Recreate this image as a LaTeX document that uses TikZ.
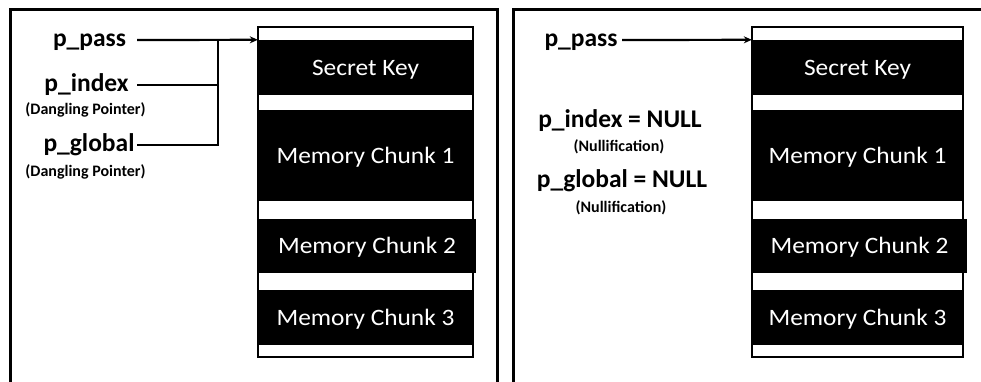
\documentclass[tikz,border=0pt]{standalone}
\usepackage{fontspec}
\setmainfont{Carlito}
\newfontfamily\chunkfont{Carlito}[FakeStretch=1.08]
\usetikzlibrary{arrows.meta}
\begin{document}
\begin{tikzpicture}[x=1pt,y=-1pt,
  frame/.style={line width=3pt},
  mem/.style={draw=black, line width=1.5pt, fill=white, inner sep=0pt},
  chunk/.style={fill=black, draw=none, text=white, inner sep=0pt,
    font=\chunkfont\fontsize{23.5}{28}\selectfont, text height=15.1pt, text depth=0pt},
  ptr/.style={font=\bfseries\fontsize{25.5}{30}\selectfont, inner sep=0pt,
    text height=12pt, text depth=0pt},
  note/.style={font=\bfseries\fontsize{16}{19}\selectfont, inner sep=0pt,
    text height=10.5pt, text depth=0pt},
  wire/.style={line width=2.2pt},
  arr/.style={wire, -{Stealth[length=8pt,width=7pt]}}
]
\useasboundingbox (0,0) rectangle (981,381);

% panel frames (open at the bottom)
\draw[frame] (10,390) -- (10,9.5) -- (497,9.5) -- (497,390);
\draw[frame] (513,390) -- (513,9.5) -- (990,9.5);

% ---------- left panel: memory layout ----------
\node[mem, minimum width=215pt, minimum height=330pt] (LBlock) at (365.5,192) {};
\node[chunk, minimum width=215pt, minimum height=55pt] (LKey) at (365.5,67.5) {Secret Key};
\node[chunk, minimum width=215pt, minimum height=91pt] (LC1) at (365.5,155.5) {Memory Chunk 1};
\node[chunk, minimum width=218pt, minimum height=54pt] (LC2) at (367,246) {Memory Chunk 2};
\node[chunk, minimum width=215pt, minimum height=55pt] (LC3) at (365.5,317.5) {Memory Chunk 3};

% left panel: pointers
\node[ptr] (LPass) at (89.5,40) {p\_pass};
\node[ptr] (LIndex) at (86.5,85) {p\_index};
\node[note] (LDang1) at (85.5,109) {(Dangling Pointer)};
\node[ptr] (LGlobal) at (89,145) {p\_global};
\node[note] (LDang2) at (85.5,171) {(Dangling Pointer)};

\coordinate (LTail) at (137,0);
\coordinate (LJoin) at (218,40);
\draw[arr] (LPass.east -| LTail) -- (LKey.north west);
\draw[wire] (LIndex.east -| LTail) -- (LIndex.east -| LJoin);
\draw[wire] (LGlobal.east -| LTail) -| (LJoin);

% ---------- right panel: memory layout ----------
\node[mem, minimum width=211pt, minimum height=330pt] (RBlock) at (857.5,192) {};
\node[chunk, minimum width=211pt, minimum height=55pt] (RKey) at (857.5,67.5) {Secret Key};
\node[chunk, minimum width=211pt, minimum height=91pt] (RC1) at (857.5,155.5) {Memory Chunk 1};
\node[chunk, minimum width=215pt, minimum height=54pt] (RC2) at (859.5,246) {Memory Chunk 2};
\node[chunk, minimum width=211pt, minimum height=55pt] (RC3) at (857.5,317.5) {Memory Chunk 3};

% right panel: pointers after nullification
\node[ptr] (RPass) at (581,40) {p\_pass};
\coordinate (RTail) at (622,0);
\draw[arr] (RPass.east -| RTail) -- (RKey.north west);
\node[ptr] (RIndex) at (620,121) {p\_index = NULL};
\node[note] (RNull1) at (619,146) {(Nullification)};
\node[ptr] (RGlobal) at (622,181) {p\_global = NULL};
\node[note] (RNull2) at (621,207) {(Nullification)};
\end{tikzpicture}
\end{document}
